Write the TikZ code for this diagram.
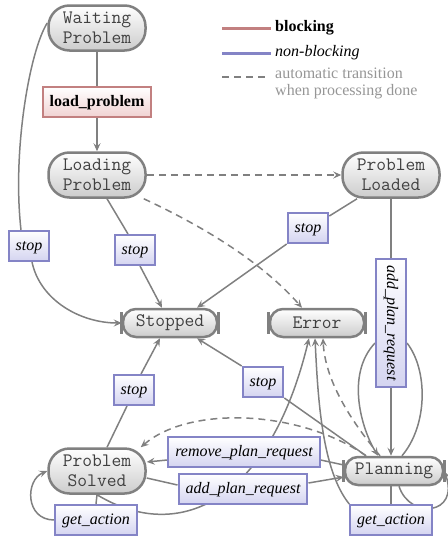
\documentclass[tikz,border=0pt]{standalone}
\usepackage{fontspec}
\setmainfont{Liberation Serif}
\usetikzlibrary{arrows.meta,backgrounds}
\definecolor{stategray}{RGB}{128,128,128}
\definecolor{blockred}{RGB}{194,128,128}
\definecolor{nonblockblue}{RGB}{132,132,198}
\definecolor{redfill}{RGB}{240,210,210}
\definecolor{bluefill}{RGB}{212,212,240}
\definecolor{legendgray}{RGB}{150,150,150}

\begin{document}
\begin{tikzpicture}[x=1pt,y=-1pt]
\def\fs{\fontsize{16}{17}\selectfont}

\tikzset{every node/.style={inner sep=2pt}}
\tikzset{state/.style={rectangle, rounded corners=21pt, draw=stategray, line width=2.5pt, top color=white, bottom color=gray!40, minimum width=97pt, minimum height=45pt, align=center, text=black!75, font=\ttfamily\fontsize{19}{20}\selectfont}}
\tikzset{flat/.style={state, rounded corners=13pt, minimum height=28pt}}
\tikzset{trans/.style={rectangle, draw=nonblockblue, line width=2pt, top color=white, bottom color=bluefill, inner xsep=7pt, minimum height=30pt, text height=11.5pt, text depth=3.5pt, font=\fs\itshape}}
\tikzset{block/.style={trans, draw=blockred, bottom color=redfill, font=\fs\bfseries}}
\tikzset{edge/.style={draw=stategray, line width=1.5pt}}
\tikzset{autotrans/.style={edge, dash pattern=on 7pt off 5pt}}
\tikzset{endbar/.style={draw=stategray, line width=3pt}}
\tikzset{>={Stealth[length=8pt,width=7pt,inset=3pt]}}

\useasboundingbox (0,0) rectangle (447,538);

%%%%%% states
\node(wait)at(97,28)[state]{Waiting\\Problem};
\node(loading)at(97,175)[state]{Loading\\Problem};
\node(loaded)at(391,175)[state]{Problem\\Loaded};
\node(stopped)at(170,323)[flat,minimum width=94pt]{Stopped};
\node(error)at(317,323)[flat,minimum width=94pt]{Error};
\node(planning)at(394,471)[flat,minimum width=98pt]{Planning};
\node(solved)at(97,471)[state]{Problem\\Solved};
\foreach \n in {stopped,error,planning}{
  \draw[endbar]([yshift=11pt]\n.west)--([yshift=-11pt]\n.west);
  \draw[endbar]([yshift=11pt]\n.east)--([yshift=-11pt]\n.east);
}

%%%%%% transitions
\node(loadp)at(97,102)[block]{load\_problem};
\node(stopL)at(29,246)[trans]{stop};
\node(stopM)at(135,250)[trans]{stop};
\node(stopTR)at(308,228)[trans]{stop};
\node(addV)at(391,323)[trans,rotate=-90]{add\_plan\_request};
\node(stopLow)at(134,390)[trans]{stop};
\node(stopRM)at(263,382)[trans]{stop};
\node(remove)at(244,452)[trans]{remove\_plan\_request};
\node(addH)at(243,489)[trans]{add\_plan\_request};
\node(getL)at(96,520)[trans]{get\_action};
\node(getR)at(391,520)[trans]{get\_action};

%%%%%% legend
\coordinate(legblockstart)at(222,28);
\node(legblock)at(271,28)[anchor=west,inner xsep=4pt,font=\fs\bfseries]{blocking};
\coordinate(legnonstart)at(222,53);
\node(legnon)at(271,53)[anchor=west,inner xsep=4pt,font=\fs\itshape]{non-blocking};
\coordinate(legautostart)at(222,77);
\coordinate(legautoend)at(268,77);
\node(legauto)at(271,83)[anchor=west,inner xsep=4pt,align=left,text=legendgray,font=\fs]{automatic transition\\when processing done};
\draw[draw=blockred,line width=3pt](legblockstart)--(legblock.west);
\draw[draw=nonblockblue,line width=3pt](legnonstart)--(legnon.west);
\draw[autotrans](legautostart)--(legautoend);

%%%%%% edges
\begin{scope}[on background layer]
\draw[edge](wait)--(loadp);
\draw[edge,->](loadp)--(loading);
\draw[edge]([yshift=5pt]wait.west) .. controls (30,50) and (12,150) .. ([xshift=-8pt]stopL.north);
\draw[edge,->]([xshift=3pt]stopL.south) .. controls (40,300) and (80,323) .. (stopped.west);
\draw[edge]([xshift=10pt]loading.south)--([xshift=-7pt]stopM.north);
\draw[edge,->]([xshift=5pt]stopM.south)--([xshift=-8pt]stopped.north);
\draw[autotrans,->](loading)--(loaded);
\draw[autotrans,->]([xshift=-3pt]loading.south east) .. controls (200,225) and (260,260) .. ([xshift=-15pt]error.north);
\draw[edge](loaded.215)--([yshift=-4pt]stopTR.north east);
\draw[edge,->](stopTR.south west)--([xshift=27pt]stopped.north);
\draw[edge](loaded.south)--(addV.west);
\draw[edge,->](addV.east)--([xshift=-3pt]planning.north);
\draw[edge,->]([yshift=-20pt]addV.south) .. controls (345,375) and (362,430) .. ([xshift=-16pt]planning.north);
\draw[edge]([xshift=8pt]planning.north) .. controls (428,425) and (428,370) .. ([yshift=-20pt]addV.north);
\draw[edge]([xshift=-28pt]planning.north)--(stopRM.south east);
\draw[edge,->](stopRM.north west)--([xshift=27pt]stopped.south);
\draw[edge]([xshift=10pt]solved.north)--([xshift=-7pt]stopLow.south);
\draw[edge,->]([xshift=7pt]stopLow.north)--([xshift=-10pt]stopped.south);
\draw[edge]([yshift=6pt]planning.west)--([yshift=-8pt]remove.east);
\draw[edge,->]([yshift=-8pt]remove.west)--([yshift=9pt]solved.east);
\draw[edge]([yshift=-7pt]solved.east)--([yshift=4pt]addH.west);
\draw[edge,->]([yshift=6pt]addH.east)--([yshift=-6pt]planning.west);
\draw[autotrans,->]([xshift=-28pt]planning.north) .. controls (300,410) and (190,405) .. ([xshift=-6pt]solved.north east);
\draw[autotrans,->]([xshift=-14pt]planning.north) .. controls (350,420) and (325,380) .. ([xshift=6pt]error.south);
\draw[edge,->](solved.south) .. controls (180,545) and (270,500) .. ([xshift=-8pt]error.south);
\draw[edge](solved.south)--(getL.north);
\draw[edge,->](getL.west) .. controls (25,520) and (25,480) .. (solved.west);
\draw[edge]([xshift=-3pt]planning.south)--(getR.north);
\draw[edge,->]([xshift=5pt]planning.south) .. controls (410,520) and (460,515) .. (planning.east);
\draw[edge,->](getR.north west) .. controls (322,470) and (318,400) .. ([xshift=-2pt]error.south);
\end{scope}
\end{tikzpicture}
\end{document}
